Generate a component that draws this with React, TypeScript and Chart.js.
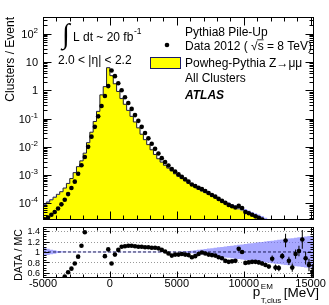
import React, { useEffect, useRef } from 'react';
import { Chart, registerables } from 'chart.js';

Chart.register(...registerables);

const FONT = '"Liberation Sans", Arial, Helvetica, sans-serif';
const W = 329;
const H = 305;

// ---------------- data ----------------
const binWidth = 250;
const binCenters = [
  -4875, -4625, -4375, -4125, -3875, -3625, -3375, -3125, -2875, -2625,
  -2375, -2125, -1875, -1625, -1375, -1125, -875, -625, -375, -125,
  125, 375, 625, 875, 1125, 1375, 1625, 1875, 2125, 2375,
  2625, 2875, 3125, 3375, 3625, 3875, 4125, 4375, 4625, 4875,
  5125, 5375, 5625, 5875, 6125, 6375, 6625, 6875, 7125, 7375,
  7625, 7875, 8125, 8375, 8625, 8875, 9125, 9375, 9625, 9875,
  10125, 10375, 10625, 10875, 11125, 11375, 11625, 11875, 12125, 12375,
  12625, 12875, 13125, 13375, 13625, 13875, 14125, 14375, 14625, 14875,
  15125,
];

// Powheg-Pythia Z->mumu (MC) clusters / event
const mcValues = [
  7.9e-5, 9.3e-5, 1.12e-4, 1.35e-4, 1.66e-4, 2.1e-4, 2.6e-4, 3.5e-4, 5.1e-4, 7.6e-4,
  1.23e-3, 2.0e-3, 3.2e-3, 6.0e-3, 0.0141, 0.033, 0.079, 0.18, 0.69, 1.35,
  6.3, 3.3, 1.7, 0.91, 0.51, 0.32, 0.195, 0.12, 0.076, 0.047,
  0.028, 0.018, 0.012, 7.9e-3, 5.4e-3, 3.8e-3, 2.9e-3, 2.24e-3, 1.78e-3, 1.41e-3,
  1.12e-3, 9.1e-4, 7.6e-4, 6.3e-4, 5.2e-4, 4.5e-4, 3.8e-4, 3.2e-4, 2.8e-4, 2.45e-4,
  2.14e-4, 1.86e-4, 1.62e-4, 1.41e-4, 1.26e-4, 1.1e-4, 9.8e-5, 8.6e-5, 7.8e-5, 6.9e-5,
  6.2e-5, 5.5e-5, 4.9e-5, 4.3e-5, 3.8e-5, 3.4e-5, 3.0e-5, 2.6e-5, 2.3e-5, 2.0e-5,
  1.75e-5, 1.55e-5, 1.36e-5, 1.2e-5, 1.06e-5, 9.3e-6, 8.2e-6, 7.2e-6, 6.3e-6, 5.5e-6,
  4.9e-6,
];

// Data 2012 clusters / event
const dataValues = [
  2.75e-5, 3.2e-5, 4.0e-5, 5.0e-5, 6.6e-5, 9.3e-5, 1.35e-4, 2.14e-4, 3.5e-4, 5.9e-4,
  1.12e-3, 2.24e-3, 4.4e-3, 0.01, 0.023, 0.051, 0.12, 0.28, 0.63, 1.41,
  5.0, 3.16, 1.78, 1.0, 0.57, 0.355, 0.22, 0.133, 0.083, 0.051,
  0.031, 0.02, 0.0129, 0.0085, 0.0058, 0.004, 0.0029, 0.00219, 0.00166, 0.00135,
  1.07e-3, 8.7e-4, 7.2e-4, 5.9e-4, 4.7e-4, 4.1e-4, 3.6e-4, 3.2e-4, 2.75e-4, 2.34e-4,
  2.0e-4, 1.74e-4, 1.45e-4, 1.23e-4, 1.05e-4, 8.9e-5, 8.0e-5, 7.2e-5, 8.2e-5, 6.9e-5,
  5.0e-5, 4.5e-5, 4.0e-5, 3.5e-5, 3.1e-5, 2.7e-5, 2.3e-5, 1.9e-5, 2.0e-5, 1.4e-5,
  1.2e-5, 1.4e-5, 1.65e-5, 1.0e-5, 7.4e-6, 8.9e-6, 8.4e-6, 8.9e-6, 5.5e-6, 4.1e-6,
  3.0e-6,
];

// DATA / MC ratio (null = outside the panel range)
const ratioValues = [
  null, null, null, null, null, null, 0.53, 0.61, 0.68, 0.78,
  0.91, 1.12, 1.38, null, null, null, null, null, 0.92, 1.05,
  0.78, 0.95, 1.04, 1.10, 1.11, 1.12, 1.12, 1.11, 1.10, 1.10,
  1.09, 1.09, 1.08, 1.08, 1.07, 1.04, 1.01, 0.97, 0.93, 0.95,
  0.95, 0.96, 0.95, 0.94, 0.90, 0.92, 0.96, 0.99, 0.97, 0.95,
  0.94, 0.93, 0.90, 0.88, 0.83, 0.81, 0.82, 0.83, 1.06, 1.00,
  0.79, 0.80, 0.81, 0.81, 0.80, 0.78, 0.75, 0.72, 0.87, 0.70,
  0.69, 0.92, 1.22, 0.83, 0.70, 0.96, 1.02, 1.24, 0.88, 0.75,
  0.62,
];

const ratioErrors = [
  0, 0, 0, 0, 0, 0, 0.02, 0.02, 0.02, 0.02,
  0.02, 0.02, 0.02, 0, 0, 0, 0, 0, 0.01, 0.01,
  0.01, 0.01, 0.01, 0.01, 0.01, 0.01, 0.01, 0.01, 0.01, 0.01,
  0.01, 0.01, 0.01, 0.01, 0.01, 0.01, 0.01, 0.01, 0.01, 0.01,
  0.01, 0.01, 0.01, 0.01, 0.01, 0.01, 0.02, 0.02, 0.02, 0.02,
  0.02, 0.02, 0.02, 0.02, 0.02, 0.02, 0.02, 0.02, 0.03, 0.03,
  0.03, 0.03, 0.03, 0.03, 0.04, 0.04, 0.04, 0.04, 0.06, 0.06,
  0.06, 0.06, 0.13, 0.08, 0.08, 0.09, 0.10, 0.18, 0.12, 0.12,
  0.15,
];

// relative MC uncertainty (half width of the blue band)
const mcBandHalfWidth = [
  0.09, 0.075, 0.06, 0.045, 0.032, 0.02, 0.012, 0.007, 0.005, 0.005,
  0.005, 0.005, 0.005, 0.005, 0.005, 0.005, 0.005, 0.005, 0.005, 0.005,
  0.005, 0.005, 0.005, 0.005, 0.005, 0.005, 0.005, 0.005, 0.005, 0.005,
  0.005, 0.005, 0.005, 0.005, 0.005, 0.005, 0.005, 0.005, 0.005, 0.005,
  0.005, 0.006, 0.008, 0.012, 0.018, 0.025, 0.033, 0.041, 0.049, 0.057,
  0.065, 0.073, 0.081, 0.089, 0.097, 0.105, 0.113, 0.121, 0.129, 0.137,
  0.145, 0.153, 0.161, 0.169, 0.177, 0.185, 0.193, 0.201, 0.209, 0.217,
  0.225, 0.233, 0.241, 0.249, 0.257, 0.265, 0.273, 0.281, 0.289, 0.297,
  0.305,
];

// axes
const xMin = -5000;
const xMax = 15250;
const xTickValues = [-5000, 0, 5000, 10000, 15000];
const xTickLabels = ['-5000', '0', '5000', '10000', '15000'];
const yMainMin = 2.6e-5;
const yMainMax = 390;
const yMainTickValues = [1e-4, 1e-3, 1e-2, 1e-1, 1, 10, 100];
const yMainTickBase = ['10', '10', '10', '10', '1', '10', '10'];
const yMainTickExp = ['-4', '-3', '-2', '-1', '', '', '2'];
const yRatioMin = 0.5;
const yRatioMax = 1.48;
const yRatioTickValues = [0.6, 0.8, 1, 1.2, 1.4];
const yRatioTickLabels = ['0.6', '0.8', '1', '1.2', '1.4'];

// ---------------- helpers ----------------
function stepPoints(values: number[]) {
  const pts = binCenters.map((c, i) => ({ x: c - binWidth / 2, y: values[i] }));
  pts.push({ x: binCenters[binCenters.length - 1] + binWidth / 2, y: values[values.length - 1] });
  return pts;
}

function frameAndTicks(ctx: any, a: any, xs: any, ys: any, xMaj: number, xMin2: number, yTicks: { v: number; major: boolean }[], yMaj: number, yMin2: number) {
  const L = Math.round(a.left) + 0.5;
  const R = Math.round(a.right) - 0.5;
  const T = Math.round(a.top) + 0.5;
  const B = Math.round(a.bottom) - 0.5;
  ctx.save();
  ctx.strokeStyle = '#000';
  ctx.lineWidth = 1;
  ctx.setLineDash([]);
  ctx.strokeRect(L, T, R - L, B - T);
  ctx.beginPath();
  for (let v = -5000; v <= 15000; v += 1000) {
    const px = Math.round(xs.getPixelForValue(v)) + 0.5;
    const len = v % 5000 === 0 ? xMaj : xMin2;
    ctx.moveTo(px, B);
    ctx.lineTo(px, B - len);
    ctx.moveTo(px, T);
    ctx.lineTo(px, T + len);
  }
  for (const t of yTicks) {
    const py = Math.round(ys.getPixelForValue(t.v)) + 0.5;
    const len = t.major ? yMaj : yMin2;
    ctx.moveTo(L, py);
    ctx.lineTo(L + len, py);
    ctx.moveTo(R, py);
    ctx.lineTo(R - len, py);
  }
  ctx.stroke();
  ctx.restore();
}

const mainDecor = {
  id: 'mainDecor',
  afterDraw(chart: any) {
    const { ctx, chartArea: a } = chart;
    const xs = chart.scales.x;
    const ys = chart.scales.y;
    const yTicks: { v: number; major: boolean }[] = [];
    for (let k = -5; k <= 2; k++) {
      for (let m = 1; m <= 9; m++) {
        const v = m * Math.pow(10, k);
        if (v > yMainMin && v < yMainMax) yTicks.push({ v, major: m === 1 });
      }
    }
    frameAndTicks(ctx, a, xs, ys, 8, 4, yTicks, 8, 4);

    ctx.save();
    ctx.fillStyle = '#000';
    ctx.textBaseline = 'alphabetic';
    // y tick labels
    yMainTickValues.forEach((v, i) => {
      const py = ys.getPixelForValue(v);
      ctx.font = `11px ${FONT}`;
      const bw = ctx.measureText(yMainTickBase[i]).width;
      ctx.font = `8px ${FONT}`;
      const ew = yMainTickExp[i] ? ctx.measureText(yMainTickExp[i]).width : 0;
      const x0 = 38 - bw - ew;
      ctx.textAlign = 'left';
      ctx.font = `11px ${FONT}`;
      ctx.fillText(yMainTickBase[i], x0, py + 4);
      if (yMainTickExp[i]) {
        ctx.font = `8px ${FONT}`;
        ctx.fillText(yMainTickExp[i], x0 + bw, py - 1);
      }
    });
    // y title
    ctx.save();
    ctx.translate(11, 17);
    ctx.rotate(-Math.PI / 2);
    ctx.font = `12px ${FONT}`;
    ctx.textAlign = 'right';
    ctx.textBaseline = 'middle';
    ctx.fillText('Clusters / Event', 0, 0);
    ctx.restore();

    // luminosity text
    ctx.textAlign = 'left';
    ctx.font = `28px "Liberation Serif", serif`;
    ctx.fillText('\u222B', 62, 43);
    ctx.font = `12px ${FONT}`;
    const lt = 'L dt ~ 20 fb';
    ctx.fillText(lt, 73, 41);
    const ltw = ctx.measureText(lt).width;
    ctx.font = `8.5px ${FONT}`;
    ctx.fillText('-1', 73 + ltw + 0.5, 34);
    ctx.font = `12px ${FONT}`;
    ctx.fillText('2.0 < |\u03B7| < 2.2', 58, 64);

    // legend
    const tx = 185;
    ctx.font = `12px ${FONT}`;
    ctx.fillText('Pythia8 Pile-Up', tx, 35.5);
    ctx.beginPath();
    ctx.arc(167, 45, 2.3, 0, Math.PI * 2);
    ctx.fill();
    const d1 = 'Data 2012 ( ';
    ctx.fillText(d1, tx, 49.5);
    const cx = tx + ctx.measureText(d1).width;
    ctx.fillText('\u221A', cx, 49.5);
    const rw = ctx.measureText('\u221A').width;
    const sw = ctx.measureText('s').width;
    ctx.fillText('s', cx + rw, 49.5);
    ctx.beginPath();
    ctx.lineWidth = 0.8;
    ctx.strokeStyle = '#000';
    ctx.moveTo(cx + rw - 0.5, 39.8);
    ctx.lineTo(cx + rw + sw, 39.8);
    ctx.stroke();
    ctx.fillText(' = 8 TeV)', cx + rw + sw, 49.5);
    ctx.fillStyle = '#ffff00';
    ctx.fillRect(150.5, 57.5, 30, 11);
    ctx.strokeStyle = '#1a1a66';
    ctx.lineWidth = 1;
    ctx.strokeRect(150.5, 57.5, 30, 11);
    ctx.fillStyle = '#000';
    ctx.fillText('Powheg-Pythia Z\u2192\u03BC\u03BC', tx, 66.5);
    ctx.fillText('All Clusters', tx, 82);
    ctx.font = `italic bold 12px ${FONT}`;
    ctx.fillText('ATLAS', tx, 98.5);
    ctx.restore();
  },
};

const ratioDecor = {
  id: 'ratioDecor',
  beforeDatasetsDraw(chart: any) {
    const { ctx, chartArea: a } = chart;
    const ys = chart.scales.y;
    ctx.save();
    ctx.strokeStyle = '#999';
    ctx.lineWidth = 1;
    ctx.setLineDash([1, 2]);
    ctx.beginPath();
    yRatioTickValues.forEach((v) => {
      if (v === 1) return;
      const py = Math.round(ys.getPixelForValue(v)) + 0.5;
      ctx.moveTo(a.left, py);
      ctx.lineTo(a.right, py);
    });
    ctx.stroke();
    ctx.restore();
  },
  afterDraw(chart: any) {
    const { ctx, chartArea: a } = chart;
    const xs = chart.scales.x;
    const ys = chart.scales.y;
    const yTicks: { v: number; major: boolean }[] = [];
    for (let k = 10; k <= 29; k++) {
      const v = k * 0.05;
      if (v > yRatioMin && v < yRatioMax) yTicks.push({ v, major: k % 4 === 0 });
    }
    frameAndTicks(ctx, a, xs, ys, 6, 3, yTicks, 6, 3);

    ctx.save();
    ctx.fillStyle = '#000';
    ctx.textBaseline = 'alphabetic';
    ctx.font = `9px ${FONT}`;
    ctx.textAlign = 'right';
    yRatioTickValues.forEach((v, i) => {
      ctx.fillText(yRatioTickLabels[i], 40, ys.getPixelForValue(v) + 3.2);
    });
    ctx.font = `11px ${FONT}`;
    ctx.textAlign = 'center';
    xTickValues.forEach((v, i) => {
      ctx.fillText(xTickLabels[i], xs.getPixelForValue(v), 287);
    });
    // y title
    ctx.save();
    ctx.translate(19, 255);
    ctx.rotate(-Math.PI / 2);
    ctx.font = `10.5px ${FONT}`;
    ctx.textAlign = 'center';
    ctx.textBaseline = 'middle';
    ctx.fillText('DATA / MC', 0, 0);
    ctx.restore();
    // x title
    ctx.textAlign = 'left';
    ctx.font = `13.5px ${FONT}`;
    const mev = '[MeV]';
    const wM = ctx.measureText(mev).width;
    const wp = ctx.measureText('p').width;
    ctx.font = `8px ${FONT}`;
    const wS = ctx.measureText('T,clus').width;
    const wE = ctx.measureText('EM').width;
    const right = 319;
    const xMev = right - wM;
    const xSub = xMev - 2.5 - Math.max(wS, wE);
    const xP = xSub - wp - 0.5;
    ctx.font = `13.5px ${FONT}`;
    ctx.fillText('p', xP, 296);
    ctx.fillText(mev, xMev, 297);
    ctx.font = `8px ${FONT}`;
    ctx.fillText('EM', xSub, 289);
    ctx.fillText('T,clus', xSub, 302.5);
    ctx.restore();
  },
};

function mainConfig(): any {
  const bandUpper = stepPoints(mcValues.map((v, i) => v * (1 + mcBandHalfWidth[i])));
  const bandLower = stepPoints(mcValues.map((v, i) => v * (1 - mcBandHalfWidth[i])));
  const mcSteps = stepPoints(mcValues);
  const dataPts = binCenters.map((c, i) => ({ x: c, y: dataValues[i] }));
  return {
    type: 'line',
    data: {
      datasets: [
        {
          data: dataPts,
          showLine: false,
          pointRadius: 2.3,
          pointBackgroundColor: '#000',
          pointBorderWidth: 0,
          pointBorderColor: '#000',
          borderColor: '#000',
        },
        {
          data: bandUpper,
          stepped: 'after',
          pointRadius: 0,
          borderWidth: 0,
          borderColor: 'transparent',
          fill: '+1',
          backgroundColor: 'rgba(80,80,255,0.5)',
        },
        {
          data: bandLower,
          stepped: 'after',
          pointRadius: 0,
          borderWidth: 0,
          borderColor: 'transparent',
          fill: false,
        },
        {
          data: mcSteps,
          stepped: 'after',
          pointRadius: 0,
          borderWidth: 1,
          borderColor: '#1e1e2e',
          fill: 'start',
          backgroundColor: '#ffff00',
        },
      ],
    },
    options: {
      animation: false,
      responsive: false,
      devicePixelRatio: 1,
      events: [],
      layout: { padding: { left: 43, top: 17, right: W - 314, bottom: H - 220 } },
      plugins: { legend: { display: false }, tooltip: { enabled: false } },
      scales: {
        x: { type: 'linear', min: xMin, max: xMax, display: false, offset: false },
        y: { type: 'logarithmic', min: yMainMin, max: yMainMax, display: false },
      },
    },
    plugins: [mainDecor],
  };
}

function ratioConfig(): any {
  const idx = binCenters.map((_, i) => i).filter((i) => ratioValues[i] !== null);
  const pts = idx.map((i) => ({ x: binCenters[i], y: ratioValues[i] as number }));
  const errs = idx.map((i) => ({
    x: binCenters[i],
    y: [(ratioValues[i] as number) - ratioErrors[i], (ratioValues[i] as number) + ratioErrors[i]],
  }));
  const bandUp = stepPoints(mcBandHalfWidth.map((h) => 1 + h));
  const bandLo = stepPoints(mcBandHalfWidth.map((h) => 1 - h));
  return {
    type: 'line',
    data: {
      datasets: [
        {
          type: 'bar',
          data: errs,
          barThickness: 1,
          inflateAmount: 0,
          backgroundColor: '#000',
          borderWidth: 0,
        },
        {
          data: pts,
          showLine: false,
          pointRadius: 2.3,
          pointBackgroundColor: '#000',
          pointBorderWidth: 0,
          borderColor: '#000',
        },
        {
          data: [
            { x: xMin, y: 1 },
            { x: xMax, y: 1 },
          ],
          pointRadius: 0,
          borderWidth: 1,
          borderColor: '#1a1a55',
          borderDash: [3, 2],
          fill: false,
        },
        {
          data: bandUp,
          stepped: 'after',
          pointRadius: 0,
          borderWidth: 0,
          borderColor: 'transparent',
          fill: '+1',
          backgroundColor: 'rgba(110,110,255,0.6)',
        },
        {
          data: bandLo,
          stepped: 'after',
          pointRadius: 0,
          borderWidth: 0,
          borderColor: 'transparent',
          fill: false,
        },
      ],
    },
    options: {
      animation: false,
      responsive: false,
      devicePixelRatio: 1,
      events: [],
      layout: { padding: { left: 43, top: 227, right: W - 314, bottom: H - 278 } },
      plugins: { legend: { display: false }, tooltip: { enabled: false } },
      scales: {
        x: { type: 'linear', min: xMin, max: xMax, display: false, offset: false },
        y: { type: 'linear', min: yRatioMin, max: yRatioMax, display: false },
      },
    },
    plugins: [ratioDecor],
  };
}

export default function App() {
  const mainRef = useRef<HTMLCanvasElement>(null);
  const ratioRef = useRef<HTMLCanvasElement>(null);
  useEffect(() => {
    const main = new Chart(mainRef.current as HTMLCanvasElement, mainConfig());
    const ratio = new Chart(ratioRef.current as HTMLCanvasElement, ratioConfig());
    return () => {
      main.destroy();
      ratio.destroy();
    };
  }, []);
  return (
    <div style={{ position: 'fixed', left: 0, top: 0, width: W, height: H, background: '#fff' }}>
      <canvas ref={mainRef} width={W} height={H} style={{ position: 'absolute', left: 0, top: 0 }} />
      <canvas ref={ratioRef} width={W} height={H} style={{ position: 'absolute', left: 0, top: 0 }} />
    </div>
  );
}
